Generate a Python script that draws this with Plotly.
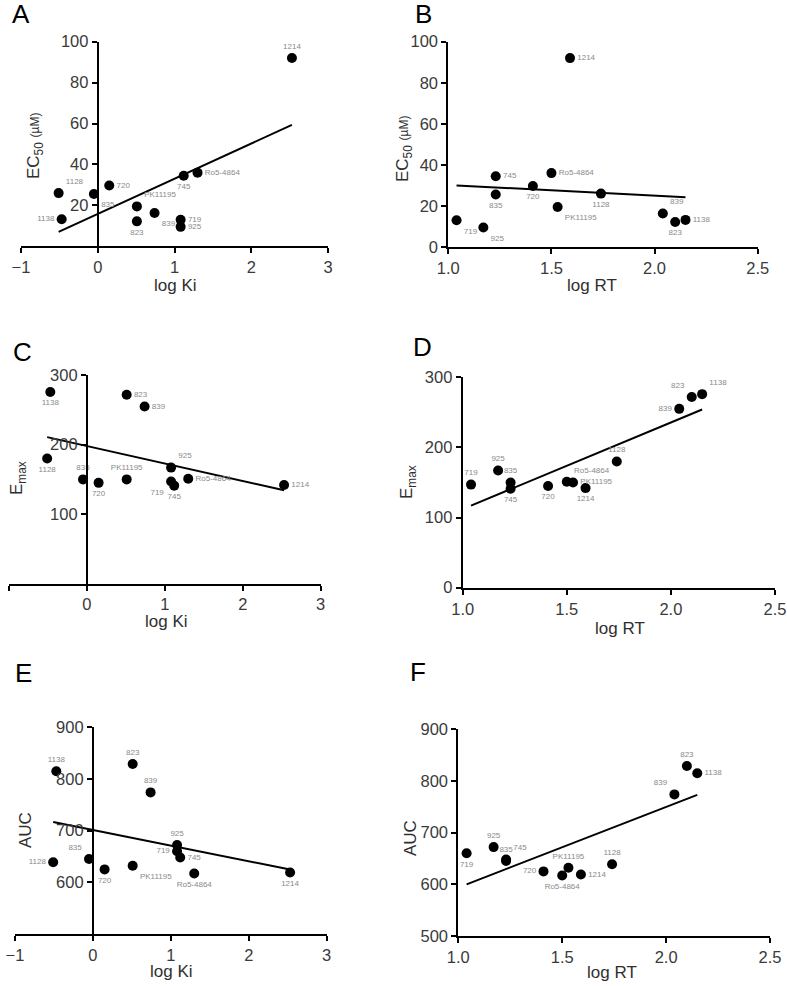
import numpy as np
import plotly.graph_objects as go

# ---------------- data ----------------
compounds = ["719", "720", "745", "823", "835", "839", "925", "1128", "1138", "1214", "PK11195", "Ro5-4864"]
log_ki = [1.08, 0.15, 1.12, 0.51, -0.05, 0.74, 1.08, -0.51, -0.47, 2.53, 0.51, 1.30]
log_rt = [1.04, 1.41, 1.23, 2.10, 1.23, 2.04, 1.17, 1.74, 2.15, 1.59, 1.53, 1.50]
ec50 = [13.0, 29.7, 34.5, 12.2, 25.6, 16.3, 9.5, 26.0, 13.2, 92.0, 19.5, 36.0]
emax = [147, 145, 141, 272, 150, 255, 167, 180, 276, 142, 150, 151]
auc = [660, 625, 648, 829, 645, 774, 672, 639, 815, 619, 632, 617]

ki_ticks = [-1, 0, 1, 2, 3]
rt_ticks = [1.0, 1.5, 2.0, 2.5]
ec50_ticks_a = [20, 40, 60, 80, 100]
ec50_ticks_b = [0, 20, 40, 60, 80, 100]
emax_ticks_c = [100, 200, 300]
emax_ticks_d = [0, 100, 200, 300]
auc_ticks_e = [600, 700, 800, 900]
auc_ticks_f = [500, 600, 700, 800, 900]

# ---------------- label placement (style) ----------------
pos_A = ["middle right", "middle right", "bottom center", "bottom center", "bottom right", "bottom right",
         "middle right", "top right", "middle left", "top center", "top right", "middle right"]
pos_B = ["bottom right", "bottom center", "middle right", "bottom center", "bottom center", "top right",
         "bottom right", "bottom center", "middle right", "middle right", "bottom right", "middle right"]
pos_C = ["bottom left", "bottom center", "bottom center", "middle right", "top center", "middle right",
         "top right", "bottom center", "bottom center", "middle right", "top center", "middle right"]
pos_D = ["top center", "bottom center", "bottom center", "top left", "top center", "middle left",
         "top center", "top center", "top right", "bottom center", "middle right", "top right"]
pos_E = ["middle left", "bottom center", "middle right", "top center", "top left", "top center",
         "top center", "middle left", "top center", "bottom center", "bottom right", "bottom center"]
pos_F = ["bottom center", "middle left", "top right", "top center", "top center", "top left",
         "top center", "top center", "middle right", "middle right", "top center", "bottom center"]

W, H = 787, 986
FONT = "Liberation Sans, Arial, sans-serif"


def px_x(p):
    return p / W


def px_y(p):
    return 1 - p / H


panels = [
    # name, x, y, xrange, yrange, xticks, yticks, xdom(px), ydom(px), text pos, free y axis
    ("A", log_ki, ec50, [-1, 3], [0, 100], ki_ticks, ec50_ticks_a, (21, 328), (41.7, 246.3), pos_A, True),
    ("B", log_rt, ec50, [1.0, 2.5], [0, 100], rt_ticks, ec50_ticks_b, (448.3, 757.7), (41.7, 247), pos_B, False),
    ("C", log_ki, emax, [-1, 3], [0, 300], ki_ticks, emax_ticks_c, (9, 320.7), (375.3, 583.5), pos_C, True),
    ("D", log_rt, emax, [1.0, 2.5], [0, 300], rt_ticks, emax_ticks_d, (462.7, 775), (377.3, 587.7), pos_D, False),
    ("E", log_ki, auc, [-1, 3], [500, 900], ki_ticks, auc_ticks_e, (15, 326.7), (727.3, 934), pos_E, True),
    ("F", log_rt, auc, [1.0, 2.5], [500, 900], rt_ticks, auc_ticks_f, (458.3, 770), (729.3, 936), pos_F, False),
]

fig = go.Figure()
layout = {}
axis_common = dict(showgrid=False, zeroline=False, showline=True, linecolor="black", linewidth=2,
                   ticks="outside", ticklen=5, tickwidth=2, tickcolor="black", automargin=False,
                   tickfont=dict(family=FONT, size=16.5, color="#3a3a3a"))

for i, (name, xs, ys, xr, yr, xt, yt, xd, yd, tpos, free) in enumerate(panels, start=1):
    xa = "x" if i == 1 else f"x{i}"
    ya = "y" if i == 1 else f"y{i}"
    xdom = [px_x(xd[0]), px_x(xd[1])]
    ydom = [px_y(yd[1]), px_y(yd[0])]
    xaxis = dict(axis_common, domain=xdom, range=xr, tickvals=xt, anchor=ya,
                 tickformat=".1f" if xr[0] == 1.0 else "d")
    yaxis = dict(axis_common, domain=ydom, range=yr, tickvals=yt)
    if free:
        yaxis.update(anchor="free",
                     position=xdom[0] + (xdom[1] - xdom[0]) * (0 - xr[0]) / (xr[1] - xr[0]))
    else:
        yaxis.update(anchor=xa)
    layout["xaxis" if i == 1 else f"xaxis{i}"] = xaxis
    layout["yaxis" if i == 1 else f"yaxis{i}"] = yaxis

    # linear regression line computed from the data
    slope, intercept = np.polyfit(xs, ys, 1)
    lx = np.array([min(xs), max(xs)])
    fig.add_trace(go.Scatter(x=lx, y=slope * lx + intercept, mode="lines",
                             line=dict(color="black", width=2), xaxis=xa, yaxis=ya,
                             showlegend=False, hoverinfo="skip"))
    fig.add_trace(go.Scatter(x=xs, y=ys, mode="markers+text", text=compounds, textposition=tpos,
                             textfont=dict(family=FONT, size=8, color="#8a8a8a"),
                             marker=dict(color="black", size=10, symbol="circle"),
                             xaxis=xa, yaxis=ya, showlegend=False, cliponaxis=False))

annotations = []
letters = [("A", 21, 14), ("B", 424, 14), ("C", 22, 352), ("D", 422, 347), ("E", 23, 673), ("F", 418, 672)]
for t, x, y in letters:
    annotations.append(dict(text=t, x=px_x(x), y=px_y(y), xref="paper", yref="paper", showarrow=False,
                            xanchor="center", yanchor="middle",
                            font=dict(family=FONT, size=26, color="black")))

ec50_title = "EC<sub>50</sub> <span style='font-size:12px'>(µM)</span>"
emax_title = "E<sub>max</sub>"
xtitles = [("log Ki", 175, 286), ("log RT", 592, 286), ("log Ki", 166, 621),
           ("log RT", 620, 628), ("log Ki", 171, 971), ("log RT", 612, 972)]
ytitles = [(ec50_title, 35, 146), (ec50_title, 404, 148), (emax_title, 18, 478),
           (emax_title, 408, 482), ("AUC", 25, 830), ("AUC", 410, 838)]
for t, x, y in xtitles:
    annotations.append(dict(text=t, x=px_x(x), y=px_y(y), xref="paper", yref="paper", showarrow=False,
                            xanchor="center", yanchor="middle",
                            font=dict(family=FONT, size=17, color="#2f2f2f")))
for t, x, y in ytitles:
    annotations.append(dict(text=t, x=px_x(x), y=px_y(y), xref="paper", yref="paper", showarrow=False,
                            xanchor="center", yanchor="middle", textangle=-90,
                            font=dict(family=FONT, size=17, color="#2f2f2f")))

fig.update_layout(width=W, height=H, margin=dict(l=0, r=0, t=0, b=0, autoexpand=False),
                  plot_bgcolor="white", paper_bgcolor="white",
                  annotations=annotations, **layout)

fig.write_html("out.html", config={"displayModeBar": False},
               post_script="document.body.style.margin='0';document.body.style.overflow='hidden';")
